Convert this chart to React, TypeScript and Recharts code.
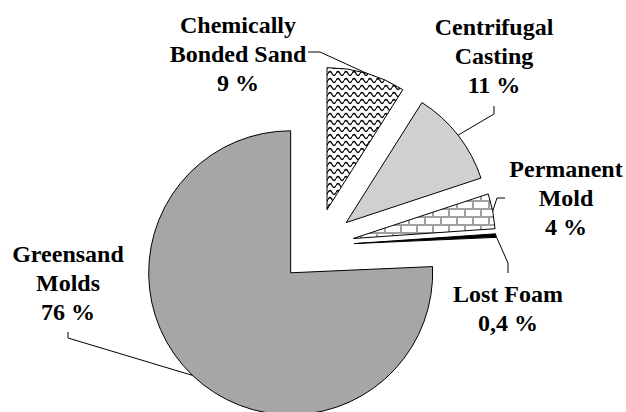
import React from "react";
import { PieChart, Pie, Cell, Sector } from "recharts";

// slices, counter-clockwise from 12 o'clock
const categories = ["Greensand Molds", "Lost Foam", "Permanent Mold", "Centrifugal Casting", "Chemically Bonded Sand"];
const shares = [76, 0.4, 4, 11, 9];
const shareLabels = ["76 %", "0,4 %", "4 %", "11 %", "9 %"];
const nameLines = [["Greensand", "Molds"], ["Lost Foam"], ["Permanent", "Mold"], ["Centrifugal", "Casting"], ["Chemically", "Bonded Sand"]];

const data = categories.map((name, i) => ({ name, value: shares[i] }));

const fills = ["#a6a6a6", "#000000", "url(#brick)", "#d0d0d0", "url(#wave)"];

// text placement (center x, first baseline) and leader elbows
const labelLayout = [
  { x: 68, y: 262, path: [[68, 332], [68, 338]] },
  { x: 508, y: 302, path: [[508, 273], [508, 263]] },
  { x: 566, y: 177, path: [[505, 198], [497, 198]] },
  { x: 494, y: 35, path: [[494, 106], [494, 114]] },
  { x: 238, y: 33, path: [[308, 52], [320, 52]] },
];

const RAD = Math.PI / 180;
const EXPLODE = 37.5;
const LINE_H = 29;
const FONT = "Liberation Serif";

const renderSlice = (props: any) => {
  const { cx, cy, midAngle } = props;
  const dx = EXPLODE * Math.cos(-midAngle * RAD);
  const dy = EXPLODE * Math.sin(-midAngle * RAD);
  return <Sector {...props} cx={cx + dx} cy={cy + dy} />;
};

const renderLabel = (props: any) => {
  const { cx, cy, midAngle, outerRadius, index } = props;
  const lay = labelLayout[index];
  const r = outerRadius + EXPLODE;
  const ax = cx + r * Math.cos(-midAngle * RAD);
  const ay = cy + r * Math.sin(-midAngle * RAD);
  const pts = [...lay.path, [ax, ay]].map((p) => p.join(",")).join(" ");
  const lines = [...nameLines[index], shareLabels[index]];
  return (
    <g>
      <polyline points={pts} fill="none" stroke="#000" strokeWidth={1} />
      {lines.map((t, k) => (
        <text
          key={k}
          x={lay.x}
          y={lay.y + k * LINE_H}
          textAnchor="middle"
          style={{ fontFamily: FONT, fontWeight: 700, fontSize: 24 }}
          fill="#000"
        >
          {t}
        </text>
      ))}
    </g>
  );
};

export default function App() {
  return (
    <div style={{ position: "absolute", left: 0, top: 0, width: 626, height: 412, background: "#fff" }}>
      <svg width={0} height={0} style={{ position: "absolute" }}>
        <defs>
          <pattern id="wave" patternUnits="userSpaceOnUse" width={8} height={7}>
            <rect width={8} height={7} fill="#fff" />
            <path d="M0 3.5 Q2 -0.5 4 3.5 Q6 7.5 8 3.5" fill="none" stroke="#000" strokeWidth={1.3} />
          </pattern>
          <pattern id="brick" patternUnits="userSpaceOnUse" width={16} height={16}>
            <rect width={16} height={16} fill="#fff" />
            <path d="M0 1 H16 M0 9 H16 M1 1 V9 M9 9 V17" fill="none" stroke="#a0a0a0" strokeWidth={2} />
          </pattern>
        </defs>
      </svg>
      <PieChart width={626} height={412} margin={{ top: 0, right: 0, bottom: 0, left: 0 }}>
        <Pie
          data={data}
          dataKey="value"
          nameKey="name"
          cx={316.6}
          cy={245.7}
          outerRadius={142}
          startAngle={90}
          endAngle={450}
          stroke="#000"
          strokeWidth={1}
          shape={renderSlice}
          label={renderLabel}
          labelLine={false}
          isAnimationActive={false}
        >
          {data.map((d, i) => (
            <Cell key={d.name} fill={fills[i]} />
          ))}
        </Pie>
      </PieChart>
    </div>
  );
}
